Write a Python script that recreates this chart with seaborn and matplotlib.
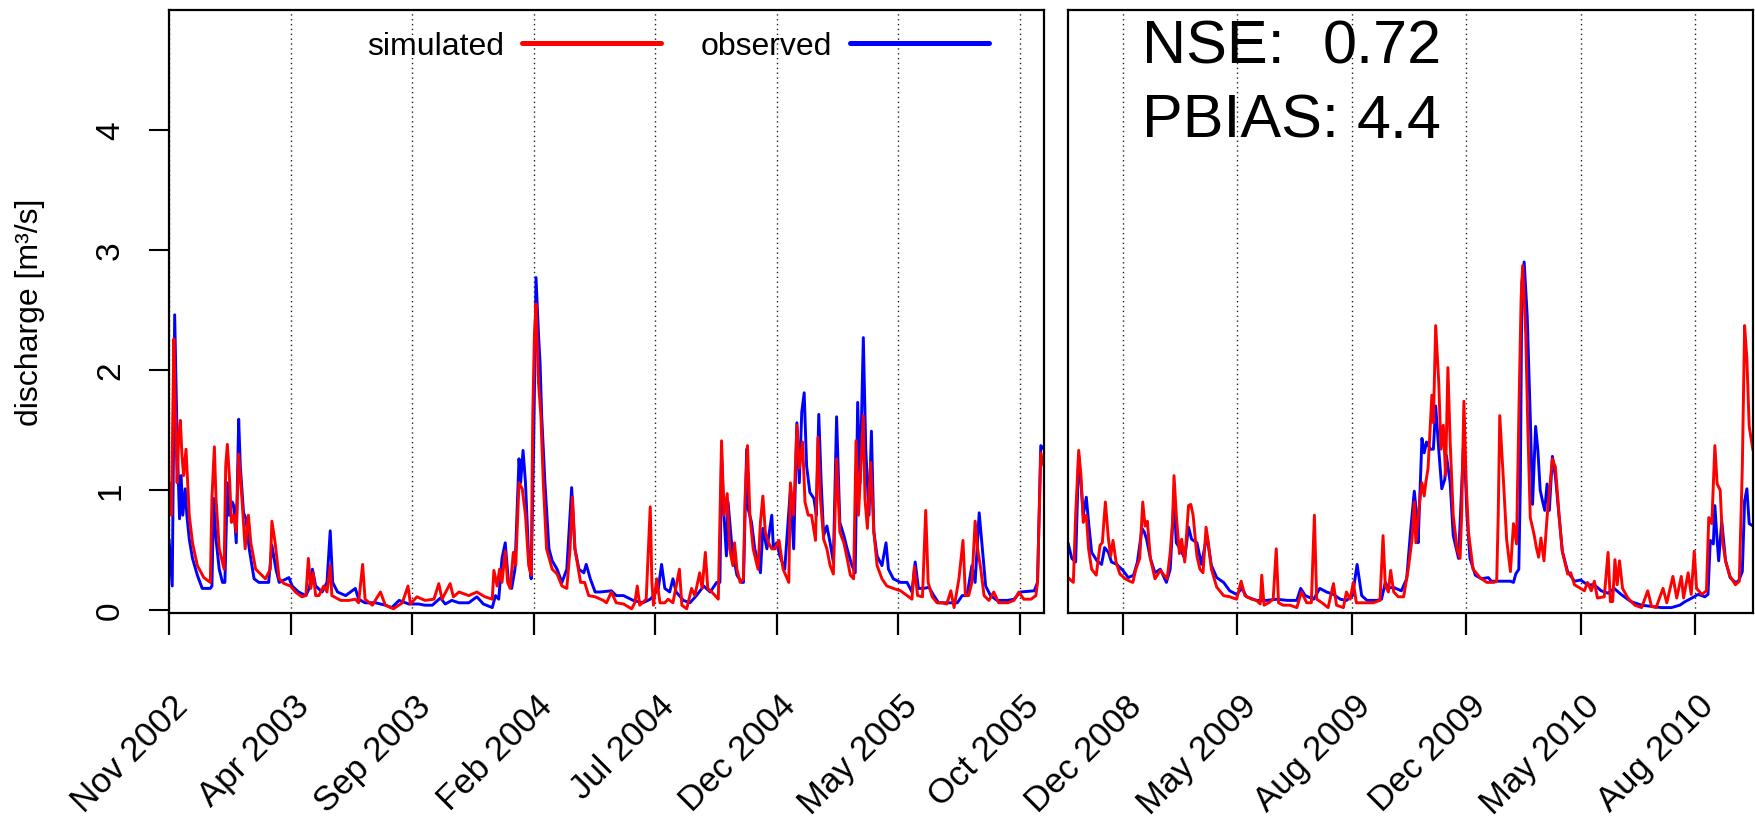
import matplotlib
matplotlib.use("Agg")
import matplotlib.pyplot as plt
import matplotlib.transforms as mtransforms
from matplotlib.lines import Line2D
import pandas as pd
import seaborn as sns

sns.set_style("ticks")
plt.rcParams["font.family"] = ["Liberation Sans", "DejaVu Sans"]
plt.rcParams.update({
    "text.color": "black",
    "axes.labelcolor": "black",
    "axes.edgecolor": "black",
    "xtick.color": "black",
    "ytick.color": "black",
    "xtick.labelcolor": "black",
    "ytick.labelcolor": "black",
})

# ---- daily discharge (day index within each period, m3/s) ----
left_obs = [
    (0, 0.59), (4, 0.20), (7, 2.46), (10, 1.43), (13, 0.76), (15, 1.12), (17, 0.79), (20, 1.01),
    (22, 0.79), (25, 0.59), (29, 0.43), (35, 0.29), (41, 0.18), (51, 0.18), (53, 0.20), (55, 0.93),
    (58, 0.59), (62, 0.34), (66, 0.23), (69, 0.23), (72, 1.06), (74, 0.79), (78, 0.90), (80, 0.87),
    (83, 0.56), (86, 1.59), (88, 1.20), (92, 0.81), (95, 0.76), (99, 0.51), (105, 0.26), (111, 0.23),
    (123, 0.23), (127, 0.54), (132, 0.34), (136, 0.23), (148, 0.27), (152, 0.20), (160, 0.15),
    (169, 0.12), (173, 0.18), (177, 0.34), (181, 0.20), (189, 0.15), (195, 0.23), (199, 0.66),
    (202, 0.23), (208, 0.15), (218, 0.12), (230, 0.18), (234, 0.09), (242, 0.06), (255, 0.06),
    (267, 0.04), (275, 0.02), (284, 0.08), (296, 0.05), (308, 0.05), (316, 0.04), (325, 0.04),
    (335, 0.10), (341, 0.05), (349, 0.08), (358, 0.06), (370, 0.06), (380, 0.11), (388, 0.05),
    (399, 0.02), (403, 0.12), (407, 0.09), (411, 0.43), (415, 0.56), (419, 0.23), (423, 0.18),
    (427, 0.34), (432, 1.26), (434, 1.06), (437, 1.33), (440, 1.06), (444, 0.43), (447, 0.26),
    (450, 1.34), (453, 2.77), (456, 2.31), (458, 2.06), (460, 1.62), (464, 1.06), (469, 0.51),
    (473, 0.41), (479, 0.34), (485, 0.23), (491, 0.34), (497, 1.02), (501, 0.51), (506, 0.34),
    (512, 0.31), (515, 0.38), (520, 0.26), (526, 0.15), (532, 0.15), (546, 0.16), (552, 0.12),
    (561, 0.12), (573, 0.08), (585, 0.06), (594, 0.09), (598, 0.12), (604, 0.18), (608, 0.38),
    (612, 0.18), (618, 0.15), (622, 0.26), (626, 0.15), (635, 0.08), (643, 0.06), (651, 0.12),
    (660, 0.20), (668, 0.15), (676, 0.23), (680, 0.23), (682, 1.29), (685, 0.79), (688, 0.45),
    (690, 0.90), (695, 0.51), (701, 0.29), (707, 0.23), (709, 0.23), (713, 1.34), (715, 0.84),
    (719, 0.73), (723, 0.51), (730, 0.31), (733, 0.68), (738, 0.51), (744, 0.79), (746, 0.51),
    (750, 0.56), (754, 0.45), (760, 0.34), (767, 1.01), (771, 0.51), (775, 1.56), (778, 1.06),
    (781, 1.65), (784, 1.81), (787, 1.20), (791, 0.98), (796, 0.93), (799, 0.79), (802, 1.63),
    (805, 1.06), (808, 0.62), (812, 0.70), (816, 0.56), (820, 0.40), (824, 1.61), (828, 0.73),
    (833, 0.62), (837, 0.51), (843, 0.37), (847, 0.31), (850, 1.73), (853, 1.06), (857, 2.27),
    (860, 1.34), (864, 0.79), (867, 1.49), (870, 0.65), (874, 0.45), (880, 0.37), (885, 0.56),
    (888, 0.34), (894, 0.26), (903, 0.23), (911, 0.23), (917, 0.15), (921, 0.40), (925, 0.18),
    (932, 0.18), (938, 0.19), (944, 0.12), (950, 0.06), (960, 0.06), (973, 0.06), (979, 0.12),
    (985, 0.12), (991, 0.37), (995, 0.23), (1000, 0.81), (1004, 0.51), (1008, 0.20), (1014, 0.12),
    (1022, 0.08), (1035, 0.08), (1043, 0.09), (1051, 0.15), (1068, 0.16), (1072, 0.23),
    (1076, 1.37), (1080, 1.34),
]

left_sim = [
    (0, 1.06), (3, 0.79), (6, 2.26), (8, 1.62), (10, 1.06), (12, 1.45), (14, 1.58), (16, 1.29),
    (18, 1.12), (21, 1.34), (23, 1.06), (25, 0.79), (29, 0.56), (35, 0.37), (43, 0.27), (51, 0.23),
    (53, 0.93), (56, 1.36), (58, 0.93), (62, 0.51), (68, 0.34), (70, 1.20), (72, 1.38), (75, 1.06),
    (77, 0.73), (80, 0.79), (83, 0.65), (86, 1.30), (90, 0.93), (94, 0.51), (98, 0.79), (101, 0.56),
    (107, 0.34), (119, 0.26), (125, 0.34), (127, 0.74), (131, 0.56), (136, 0.26), (142, 0.22),
    (150, 0.20), (156, 0.15), (164, 0.11), (169, 0.12), (172, 0.43), (175, 0.18), (178, 0.31),
    (181, 0.12), (185, 0.12), (191, 0.20), (195, 0.15), (199, 0.37), (201, 0.12), (212, 0.08),
    (222, 0.08), (230, 0.09), (234, 0.06), (239, 0.38), (242, 0.09), (251, 0.04), (261, 0.15),
    (267, 0.04), (277, 0.01), (288, 0.06), (295, 0.20), (298, 0.05), (306, 0.11), (316, 0.08),
    (327, 0.09), (333, 0.22), (337, 0.09), (347, 0.22), (351, 0.11), (358, 0.15), (370, 0.12),
    (380, 0.15), (390, 0.11), (399, 0.09), (401, 0.33), (405, 0.20), (408, 0.34), (411, 0.23),
    (415, 0.49), (418, 0.23), (421, 0.18), (425, 0.48), (428, 0.37), (432, 1.06), (436, 1.01),
    (440, 0.79), (444, 0.37), (447, 0.29), (449, 1.62), (451, 2.29), (453, 2.55), (456, 1.90),
    (459, 1.62), (462, 1.06), (466, 0.51), (473, 0.34), (479, 0.30), (485, 0.20), (491, 0.18),
    (495, 0.51), (498, 0.94), (501, 0.51), (508, 0.23), (513, 0.23), (518, 0.12), (526, 0.11),
    (536, 0.08), (540, 0.06), (546, 0.15), (552, 0.06), (561, 0.05), (571, 0.01), (575, 0.06),
    (578, 0.20), (581, 0.04), (589, 0.09), (594, 0.86), (596, 0.23), (598, 0.04), (602, 0.26),
    (606, 0.06), (612, 0.06), (616, 0.09), (622, 0.06), (630, 0.34), (633, 0.04), (639, 0.01),
    (645, 0.18), (649, 0.12), (655, 0.31), (658, 0.18), (662, 0.48), (665, 0.18), (670, 0.15),
    (674, 0.12), (678, 0.09), (682, 1.41), (685, 0.79), (689, 0.97), (692, 0.51), (696, 0.37),
    (698, 0.56), (701, 0.34), (705, 0.23), (709, 0.26), (711, 0.93), (714, 1.37), (717, 0.79),
    (721, 0.51), (727, 0.34), (730, 0.73), (733, 0.95), (736, 0.65), (740, 0.56), (744, 0.51),
    (748, 0.51), (753, 0.58), (758, 0.34), (765, 0.23), (767, 1.06), (771, 0.79), (775, 1.54),
    (778, 1.18), (782, 1.40), (785, 0.90), (789, 0.79), (793, 0.79), (798, 0.58), (801, 1.44),
    (804, 0.93), (808, 0.59), (812, 0.51), (816, 0.37), (820, 0.30), (824, 1.26), (828, 0.65),
    (833, 0.56), (837, 0.43), (841, 0.29), (845, 0.26), (848, 1.41), (851, 0.79), (857, 1.62),
    (859, 0.93), (862, 0.68), (866, 1.23), (870, 0.65), (874, 0.37), (880, 0.26), (886, 0.20),
    (894, 0.18), (903, 0.16), (911, 0.12), (917, 0.09), (920, 0.36), (924, 0.12), (930, 0.11),
    (934, 0.83), (937, 0.23), (942, 0.11), (948, 0.06), (954, 0.06), (960, 0.05), (965, 0.16),
    (969, 0.02), (975, 0.26), (980, 0.58), (983, 0.12), (987, 0.12), (991, 0.23), (995, 0.74),
    (998, 0.51), (1002, 0.34), (1006, 0.12), (1012, 0.08), (1018, 0.15), (1024, 0.06),
    (1035, 0.06), (1043, 0.08), (1049, 0.15), (1055, 0.09), (1064, 0.09), (1070, 0.12),
    (1072, 0.23), (1076, 1.31), (1080, 1.20),
]

right_obs = [
    (0, 0.56), (5, 0.43), (10, 0.40), (14, 1.29), (17, 1.06), (20, 0.79), (24, 0.94), (27, 0.73),
    (31, 0.48), (38, 0.41), (44, 0.38), (48, 0.52), (53, 0.48), (57, 0.40), (64, 0.38), (72, 0.33),
    (79, 0.27), (86, 0.29), (91, 0.40), (97, 0.68), (100, 0.65), (103, 0.59), (108, 0.43),
    (114, 0.31), (121, 0.34), (129, 0.23), (134, 0.34), (139, 0.93), (142, 0.56), (147, 0.51),
    (153, 0.43), (158, 0.69), (162, 0.59), (169, 0.56), (175, 0.38), (182, 0.62), (188, 0.37),
    (195, 0.27), (204, 0.23), (212, 0.16), (221, 0.13), (228, 0.18), (234, 0.11), (247, 0.08),
    (260, 0.08), (274, 0.09), (287, 0.08), (300, 0.08), (305, 0.18), (311, 0.12), (322, 0.09),
    (330, 0.18), (339, 0.15), (348, 0.13), (357, 0.09), (365, 0.08), (373, 0.12), (379, 0.38),
    (385, 0.12), (392, 0.08), (405, 0.08), (411, 0.09), (416, 0.23), (420, 0.18), (426, 0.19),
    (437, 0.16), (444, 0.26), (449, 0.65), (454, 0.99), (457, 0.79), (459, 0.56), (464, 1.43),
    (467, 1.31), (470, 1.40), (475, 1.34), (479, 1.34), (482, 1.70), (486, 1.34), (490, 1.01),
    (494, 1.09), (496, 1.29), (501, 1.06), (505, 0.62), (512, 0.43), (519, 1.45), (523, 0.79),
    (527, 0.43), (534, 0.29), (542, 0.26), (551, 0.27), (555, 0.24), (566, 0.24), (580, 0.24),
    (584, 0.23), (587, 0.30), (591, 0.34), (593, 1.05), (595, 2.73), (598, 2.90), (602, 2.45),
    (606, 1.61), (609, 0.88), (613, 1.53), (616, 1.33), (619, 1.00), (622, 0.91), (625, 0.83),
    (628, 1.05), (631, 0.83), (635, 1.28), (639, 1.11), (644, 0.77), (648, 0.49), (655, 0.32),
    (664, 0.24), (672, 0.25), (681, 0.21), (690, 0.21), (699, 0.16), (708, 0.14), (716, 0.18),
    (725, 0.13), (738, 0.07), (752, 0.04), (765, 0.03), (778, 0.02), (791, 0.02), (802, 0.04),
    (809, 0.07), (818, 0.10), (826, 0.13), (835, 0.11), (839, 0.13), (842, 0.58), (846, 0.55),
    (848, 0.87), (851, 0.58), (853, 0.41), (857, 0.74), (862, 0.41), (868, 0.27), (875, 0.23),
    (879, 0.24), (884, 0.32), (887, 0.91), (890, 1.01), (893, 0.72), (898, 0.70),
]

right_sim = [
    (0, 0.27), (7, 0.23), (10, 0.79), (14, 1.33), (17, 1.12), (20, 0.73), (24, 0.79), (27, 0.51),
    (31, 0.34), (37, 0.29), (42, 0.54), (45, 0.56), (49, 0.90), (53, 0.59), (56, 0.45), (59, 0.58),
    (63, 0.40), (68, 0.30), (75, 0.26), (81, 0.24), (85, 0.23), (89, 0.34), (94, 0.43), (98, 0.90),
    (101, 0.70), (104, 0.74), (108, 0.43), (114, 0.26), (121, 0.33), (126, 0.29), (130, 0.26),
    (134, 0.48), (137, 0.73), (139, 1.12), (142, 0.79), (146, 0.47), (149, 0.59), (153, 0.40),
    (158, 0.87), (161, 0.88), (164, 0.79), (169, 0.45), (173, 0.34), (177, 0.31), (181, 0.69),
    (184, 0.56), (188, 0.34), (195, 0.19), (204, 0.12), (212, 0.11), (221, 0.09), (227, 0.24),
    (232, 0.12), (241, 0.09), (247, 0.08), (252, 0.05), (254, 0.29), (257, 0.04), (263, 0.06),
    (269, 0.09), (273, 0.51), (276, 0.06), (282, 0.04), (291, 0.04), (300, 0.02), (306, 0.15),
    (313, 0.06), (319, 0.06), (323, 0.79), (326, 0.09), (333, 0.06), (341, 0.02), (348, 0.22),
    (352, 0.04), (361, 0.02), (365, 0.15), (370, 0.09), (374, 0.23), (378, 0.06), (387, 0.06),
    (400, 0.06), (409, 0.08), (413, 0.62), (416, 0.20), (420, 0.15), (423, 0.33), (427, 0.15),
    (433, 0.11), (440, 0.11), (446, 0.34), (451, 0.59), (454, 0.90), (456, 0.56), (461, 0.90),
    (464, 1.06), (467, 0.95), (469, 1.06), (472, 1.18), (477, 1.79), (479, 1.56), (482, 2.37),
    (486, 1.90), (489, 1.34), (492, 1.54), (495, 1.12), (498, 2.02), (501, 1.40), (505, 0.79),
    (510, 0.51), (514, 0.43), (516, 0.79), (519, 1.74), (522, 1.06), (525, 0.65), (531, 0.34),
    (540, 0.27), (549, 0.23), (558, 0.23), (562, 0.24), (564, 0.79), (566, 1.62), (571, 1.06),
    (575, 0.59), (580, 0.32), (584, 0.72), (588, 0.55), (591, 1.61), (594, 2.59), (596, 2.87),
    (600, 2.31), (603, 1.47), (606, 0.77), (611, 0.63), (614, 0.52), (617, 0.44), (620, 0.60),
    (624, 0.41), (628, 0.77), (632, 1.05), (635, 1.26), (639, 1.19), (644, 0.77), (648, 0.49),
    (655, 0.30), (659, 0.31), (664, 0.21), (672, 0.18), (677, 0.16), (681, 0.23), (686, 0.16),
    (690, 0.24), (694, 0.10), (703, 0.11), (708, 0.48), (711, 0.07), (714, 0.07), (717, 0.42),
    (720, 0.21), (723, 0.41), (727, 0.18), (734, 0.10), (743, 0.04), (752, 0.02), (760, 0.16),
    (765, 0.03), (771, 0.02), (780, 0.18), (785, 0.06), (793, 0.28), (798, 0.10), (804, 0.28),
    (807, 0.10), (813, 0.31), (817, 0.13), (821, 0.49), (824, 0.18), (831, 0.13), (837, 0.16),
    (840, 0.77), (844, 0.72), (848, 1.37), (851, 1.05), (855, 1.00), (858, 0.58), (862, 0.41),
    (868, 0.28), (875, 0.21), (880, 0.24), (884, 1.19), (887, 2.37), (890, 2.09), (893, 1.53),
    (898, 1.33),
]

left_ticks = [0, 150, 300, 450, 600, 750, 900, 1050]
left_labels = ["Nov 2002", "Apr 2003", "Sep 2003", "Feb 2004",
               "Jul 2004", "Dec 2004", "May 2005", "Oct 2005"]
right_ticks = [72, 222, 372, 522, 672, 822]
right_labels = ["Dec 2008", "May 2009", "Aug 2009", "Dec 2009", "May 2010", "Aug 2010"]
y_ticks = [0, 1, 2, 3, 4]

nse = 0.72
pbias = 4.4

# ---- figure layout (pixel boxes on a 1755 x 820 canvas) ----
W, H = 1755, 820
fig = plt.figure(figsize=(W / 100, H / 100), dpi=100)


def px_box(x0, x1, y0, y1):
    return [x0 / W, 1 - y1 / H, (x1 - x0) / W, (y1 - y0) / H]


ax1 = fig.add_axes(px_box(169, 1044, 11, 614))
ax2 = fig.add_axes(px_box(1068, 1753, 11, 614))

SIM_COLOR = "#ff0000"
OBS_COLOR = "#0000ff"


def draw_panel(ax, obs, sim, xmax, ticks, labels):
    d_obs = pd.DataFrame(obs, columns=["day", "q"])
    d_sim = pd.DataFrame(sim, columns=["day", "q"])
    sns.lineplot(data=d_obs, x="day", y="q", ax=ax, color=OBS_COLOR, lw=2.1,
                 estimator=None, sort=False)
    sns.lineplot(data=d_sim, x="day", y="q", ax=ax, color=SIM_COLOR, lw=2.1,
                 estimator=None, sort=False)
    ax.set_xlim(0, xmax)
    ax.set_ylim(-0.025, 5.0)
    ax.set_xlabel("")
    ax.set_ylabel("")
    ax.set_xticks(ticks)
    ax.set_xticklabels([])
    ax.tick_params(axis="x", length=16, width=1.6, direction="out", color="black")
    ax.set_axisbelow(True)
    ax.grid(axis="x", color="#222222", linestyle=(0, (1, 2.5)), linewidth=1.0)
    ax.grid(axis="y", visible=False)
    for sp in ax.spines.values():
        sp.set_visible(True)
        sp.set_linewidth(1.6)
        sp.set_color("black")
    offset = mtransforms.ScaledTranslation(0.14, -0.875, fig.dpi_scale_trans)
    trans = ax.get_xaxis_transform() + offset
    for t, lab in zip(ticks, labels):
        ax.text(t, 0, lab, transform=trans, rotation=45, rotation_mode="anchor",
                ha="right", va="center", fontsize=25, color="black", clip_on=False)


draw_panel(ax1, left_obs, left_sim, 1080, left_ticks, left_labels)
draw_panel(ax2, right_obs, right_sim, 898, right_ticks, right_labels)

# y axis only on the first panel
ax1.set_yticks(y_ticks)
ax1.set_yticklabels([str(v) for v in y_ticks], rotation=90, va="center", fontsize=24)
ax1.tick_params(axis="y", length=14.4, width=1.5, pad=16.5, colors="black")
ax2.set_yticks([])

fig.text(30 / W, 1 - 312 / H, "discharge [m³/s]", rotation=90,
         ha="center", va="center", fontsize=23, color="black")

# legend: label first, then the line sample
handles = [Line2D([], [], color=SIM_COLOR, lw=3.6, solid_capstyle="round"),
           Line2D([], [], color=OBS_COLOR, lw=3.6, solid_capstyle="round")]
leg = ax1.legend(handles, ["simulated", "observed"], ncol=2, markerfirst=False,
                 frameon=False, fontsize=23, handlelength=4.35, handletextpad=0.56,
                 columnspacing=1.25, loc="center",
                 bbox_to_anchor=((677.5 - 169) / 874, (614 - 47) / 603))
for txt in leg.get_texts():
    txt.set_color("black")

# goodness-of-fit statistics
stat_rows = [("NSE:", f"{nse:.2f}", 63), ("PBIAS:", f"{pbias:.1f}", 138)]
for name, val, base in stat_rows:
    fig.text(1142 / W, 1 - base / H, name, ha="left", va="baseline", fontsize=44,
             color="black")
    fig.text(1442 / W, 1 - base / H, val, ha="right", va="baseline", fontsize=44,
             color="black")

fig.savefig("out.png", dpi=100)
